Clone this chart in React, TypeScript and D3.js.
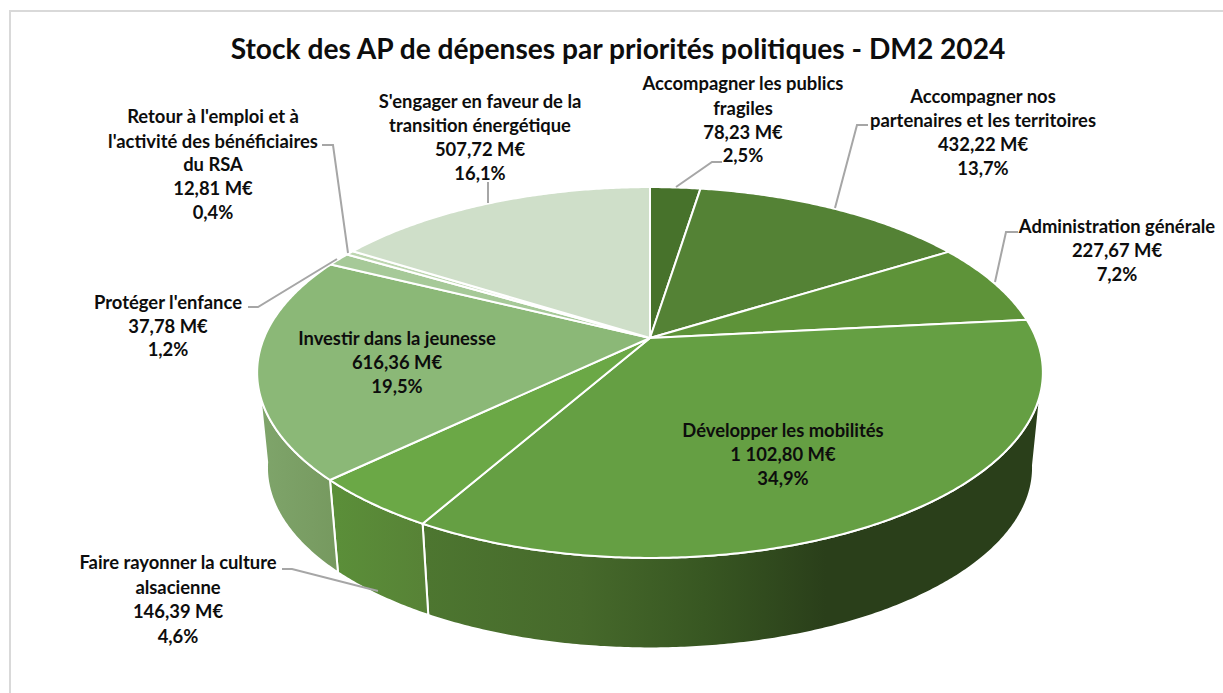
import React from "react";
import * as d3 from "d3";

const categories = [
  "Accompagner les publics fragiles",
  "Accompagner nos partenaires et les territoires",
  "Administration générale",
  "Développer les mobilités",
  "Faire rayonner la culture alsacienne",
  "Investir dans la jeunesse",
  "Protéger l'enfance",
  "Retour à l'emploi et à l'activité des bénéficiaires du RSA",
  "S'engager en faveur de la transition énergétique",
];
const values = [78.23, 432.22, 227.67, 1102.8, 146.39, 616.36, 37.78, 12.81, 507.72];
const valueLabels = ["78,23 M€", "432,22 M€", "227,67 M€", "1 102,80 M€", "146,39 M€", "616,36 M€", "37,78 M€", "12,81 M€", "507,72 M€"];
const percentLabels = ["2,5%", "13,7%", "7,2%", "34,9%", "4,6%", "19,5%", "1,2%", "0,4%", "16,1%"];
const nameLines = [
  ["Accompagner les publics", "fragiles"],
  ["Accompagner nos", "partenaires et les territoires"],
  ["Administration générale"],
  ["Développer les mobilités"],
  ["Faire rayonner la culture", "alsacienne"],
  ["Investir dans la jeunesse"],
  ["Protéger l'enfance"],
  ["Retour à l'emploi et à", "l'activité des bénéficiaires", "du RSA"],
  ["S'engager en faveur de la", "transition énergétique"],
];
const topColors = ["#47722b", "#548235", "#5e9339", "#659f43", "#6ba846", "#8bb877", "#a6c998", "#bdd6b0", "#cfdfc9"];

const W = 1223, H = 693;
const FONT = "Lato, 'Open Sans', sans-serif";
const labelCenterX = [743, 983, 1117, 783, 178, 397, 168, 213, 480];
const labelLineY = [
  [83, 108, 132, 155],
  [96, 120, 144, 168],
  [226, 250, 274],
  [430, 454, 478],
  [562, 587, 611, 636],
  [338, 362, 386],
  [302, 326, 349],
  [116, 141, 164, 188, 212],
  [101, 125, 149, 173],
];
const leaders: ([number, number][] | null)[] = [
  [[676, 187], [712, 162], [722, 162]],
  [[835, 208], [857, 125], [868, 125]],
  [[995, 282], [1006, 232], [1018, 232]],
  null,
  [[378, 591], [292, 569], [282, 569]],
  null,
  [[337, 259], [258, 307], [248, 307]],
  [[348, 253], [333, 145], [322, 145]],
  [[488, 203], [488, 182]],
];

// Perspective-projected disc (angle clockwise from 12 o'clock)
const cx = 650, cy = 338, a = 386, b = 179, k = 0.186;
const topPt = (t: number): [number, number] => {
  const s = 1 + k * Math.cos(t);
  return [cx + (a * Math.sin(t)) / s, cy - (b * Math.cos(t)) / s];
};
const lowScale = 0.975, lowY = 434;
const lowPt = (t: number): [number, number] => {
  const [x, y] = topPt(t);
  return [cx + (x - cx) * lowScale, lowY + (y - cy) * lowScale];
};
const rad = (d: number) => (d * Math.PI) / 180;
const sideFrom = rad(100), sideTo = rad(261);
const sampleAngles = (t0: number, t1: number) => {
  const n = Math.max(2, Math.ceil((t1 - t0) / rad(0.5)));
  return d3.range(n + 1).map((i) => t0 + ((t1 - t0) * i) / n);
};
const line = d3.line();

const slices = d3.pie<number>().sort(null).startAngle(0).endAngle(2 * Math.PI)(values);

const topPath = (s0: number, s1: number) =>
  line([[cx, cy], ...sampleAngles(s0, s1).map(topPt)]) + "Z";
const sidePath = (s0: number, s1: number) => {
  const t0 = Math.max(s0, sideFrom), t1 = Math.min(s1, sideTo);
  if (t1 <= t0) return null;
  const ang = sampleAngles(t0, t1);
  return line([...ang.map(topPt), ...ang.slice().reverse().map(lowPt)]) + "Z";
};

const sideGradients: Record<number, { x1: number; x2: number; stops: [number, string][] }> = {
  3: { x1: 428, x2: 1040, stops: [[0, "#4d7630"], [0.25, "#46692b"], [0.45, "#385722"], [0.65, "#2a3f1a"], [1, "#2a3f1a"]] },
  4: { x1: 332, x2: 428, stops: [[0, "#5b8f39"], [1, "#578236"]] },
  5: { x1: 258, x2: 338, stops: [[0, "#7fa56b"], [1, "#76995f"]] },
};

export default function App() {
  return (
    <svg width={W} height={H} style={{ position: "absolute", left: 0, top: 0, background: "#fff" }} fontFamily={FONT}>
      <defs>
        {Object.entries(sideGradients).map(([i, g]) => (
          <linearGradient key={i} id={`side${i}`} gradientUnits="userSpaceOnUse" x1={g.x1} x2={g.x2} y1={0} y2={0}>
            {g.stops.map(([o, c]) => <stop key={o} offset={o} stopColor={c} />)}
          </linearGradient>
        ))}
      </defs>
      <path d={`M10,${H}V11H${W}`} fill="none" stroke="#d9d9d9" strokeWidth={2} />
      <text x={618} y={48} textAnchor="middle" dominantBaseline="central" fontSize={28.15} fontWeight={700} fill="#0d0d0d">
        Stock des AP de dépenses par priorités politiques - DM2 2024
      </text>
      {slices.map((s, i) => {
        const d = sidePath(s.startAngle, s.endAngle);
        return d ? <path key={i} d={d} fill={`url(#side${i})`} stroke="#fff" strokeWidth={2} strokeLinejoin="round" /> : null;
      })}
      {slices.map((s, i) => (
        <path key={categories[i]} d={topPath(s.startAngle, s.endAngle)} fill={topColors[i]} stroke="#fff" strokeWidth={2} strokeLinejoin="round" />
      ))}
      {leaders.map((l, i) => l && <path key={i} d={line(l)!} fill="none" stroke="#a6a6a6" strokeWidth={2} />)}
      {categories.map((c, i) => {
        const lines = [...nameLines[i], valueLabels[i], percentLabels[i]];
        return (
          <text key={c} textAnchor="middle" fontSize={18.4} fontWeight={700} fill="#0d0d0d">
            {lines.map((t, j) => (
              <tspan key={j} x={labelCenterX[i]} y={labelLineY[i][j]} dominantBaseline="central">{t}</tspan>
            ))}
          </text>
        );
      })}
    </svg>
  );
}
